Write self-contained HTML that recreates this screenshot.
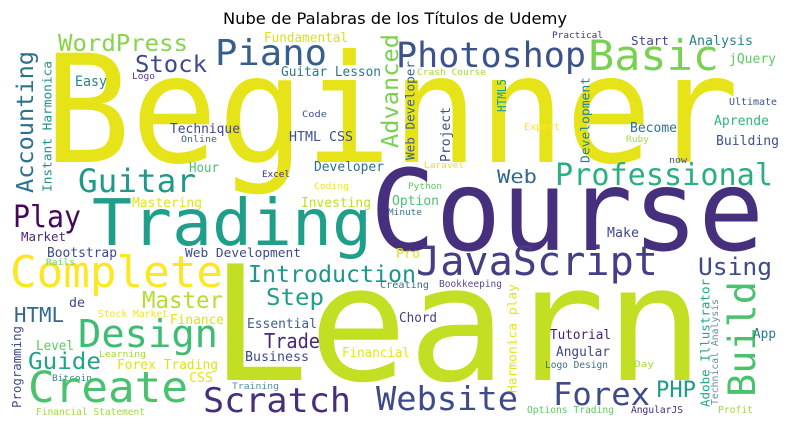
<!DOCTYPE html>
<html>
<head>
<meta charset="utf-8">
<style>
html,body{margin:0;padding:0;background:#fff;}
svg{display:block;}
</style>
</head>
<body>
<svg id="cloud" width="790" height="427" viewBox="0 0 790 427" xmlns="http://www.w3.org/2000/svg">
<text x="395" y="24" text-anchor="middle" font-family="DejaVu Sans, Liberation Sans, sans-serif" font-size="16.3" fill="#000">Nube de Palabras de los Títulos de Udemy</text>
<g id="words"></g>
</svg>
<script>
// words, left x, baseline y, font size, visible width/length, color, vertical flag
const words = ["Beginner","Course","Learn","Trading","Complete","WordPress","Piano","Fundamental","Stock","Accounting","Instant Harmonica","Easy","Logo","Guitar Lesson","Code","Technique","Online","HTML CSS","Hour","Developer","Excel","Coding","Guitar","Advanced","Play","Mastering","Investing","Photoshop","Practical","Basic","Start","Analysis","jQuery","Crash Course","HTML5","Web Developer","Project","Development","Ultimate","Expert","Aprende","Become","Ruby","Building","Laravel","now","Web","Professional","Python","Option","Minute","Market","Bootstrap","Web Development","Rails","Introduction","Step","Master","de","HTML","Stock Market","Finance","Essential","Design","Trade","Programming","Level","Learning","Guide","Forex Trading","Business","CSS","Bitcoin","Create","Training","Scratch","Financial Statement","JavaScript","Make","Pro","Using","Creating","Bookkeeping","Harmonica play","Build","Adobe Illustrator","Technical Analysis","Chord","Tutorial","App","Financial","Angular","Logo Design","Day","Forex","PHP","Website","Options Trading","AngularJS","Profit"];
const posX = [44,370,210,92,10,58,215,264,135,15,42,75,132,281,302,170,181,289,189,314,262,314,78,380,13,132,301,396,552,588,631,689,729,417,497,405,440,580,729,524,714,630,626,716,424,669,497,555,408,392,388,21,47,185,46,248,266,142,69,14,98,170,247,78,264,12,36,99,28,117,245,189,52,28,232,203,36,416,607,396,698,380,439,507,727,700,711,399,550,753,342,556,545,634,553,656,376,527,631,718];
const posY = [162,250,380,245,287,51,65,42,72,193,192,86,79,76,117,133,142,141,172,171,177,189,192,148,227,207,207,67,38,70,45,45,63,75,112,160,162,163,105,130,125,132,142,145,168,163,183,185,189,205,215,241,257,257,265,282,305,308,307,322,317,324,328,347,348,408,350,357,369,369,361,382,381,402,389,412,415,275,237,258,275,288,287,393,397,407,405,322,339,338,357,356,368,367,405,397,410,413,413,413];
const sizes = [150,112,160,64,44,23.5,36,13.5,23,23.5,12.7,14,9,13,9,13,9,13,13,13,9,9,32,23.5,30,13,13,34.5,9,42,12,13,13,9,12,12.5,13,12.5,9.5,9.5,13,13,9,13,9,9,19,30,9,13,9,12,13,12.5,9,23,23,23,13,20,9.5,13,13,38,20,12,13,9,23,13,13,13,9,43,9,34,9.5,40,13,13,24,9.5,9.5,12.8,37,12.5,9.5,13,13,13,13,13,9.5,9,31,22,33,9.5,9.5,9.5];
const lengths = [695,394,494,280,213,130,112,84,72,142,131,32,23,100,25,70,36,64,30,70,28,35,118,114,68,70,70,190,51,131,38,64,47,69,33,99,55,86,48,36,55,47,23,63,40,18,40,218,34,47,34,45,70,116,29,168,58,81,16,50,70,54,70,140,56,82,38,47,73,101,64,24,40,160,47,148,109,242,32,24,74,49,63,109,116,128,106,38,61,23,68,54,63,20,97,40,142,87,52,35];
const colors = ["#e6e419","#46307e","#c2df23","#1f9e89","#fde725","#86d549","#355f8d","#d8e219","#3e4a89","#2c728e","#21918c","#25858e","#5b3a8d","#2a788e","#3b528b","#414487","#3e5f8e","#3b528b","#4ac16d","#2d708e","#472d7b","#f1e51d","#1f9a8a","#7ad151","#46085c","#e2e418","#bddf26","#3b528b","#46337e","#7ad151","#3e4989","#26828e","#5ec962","#a0da39","#1f9e89","#3e5f8e","#3b528b","#277f8e","#3b5688","#fde725","#35b779","#2c728e","#a5db36","#3b528b","#eae51a","#3b528b","#31688e","#2ab07f","#5ec962","#4ac16d","#3b6f8e","#482878","#3e4a89","#3e4a89","#7ad151","#1f968b","#1f9e89","#b5de2b","#3e4a89","#31688e","#f1e51d","#dde318","#3e5f8e","#3fbc73","#482878","#3e4a89","#5ec962","#9fda3a","#20a386","#dde318","#3e4a89","#e5e419","#3e7f9e","#4ac16d","#4e8fa6","#472d7b","#9fda3a","#433e85","#3e4a89","#e5e419","#3e4a89","#3e6f8e","#5a4a8e","#e2e418","#4ac16d","#22a884","#6a8aa3","#433e85","#481f70","#2a788e","#e8e419","#414487","#3e6f8e","#a5db36","#3e4a89","#1f9a8a","#3e4a89","#5ec962","#482878","#9fda3a"];
const vertical = [0,0,0,0,0,0,0,0,0,1,1,0,0,0,0,0,0,0,0,0,0,0,0,1,0,0,0,0,0,0,0,0,0,0,1,1,1,1,0,0,0,0,0,0,0,0,0,0,0,0,0,0,0,0,0,0,0,0,0,0,0,0,0,0,0,1,0,0,0,0,0,0,0,0,0,0,0,0,0,0,0,0,0,1,1,1,1,0,0,0,0,0,0,0,0,0,0,0,0,0];

const NS = "http://www.w3.org/2000/svg";
const g = document.getElementById("words");
for (let i = 0; i < words.length; i++) {
  const t = document.createElementNS(NS, "text");
  t.textContent = words[i];
  t.setAttribute("font-family", "DejaVu Sans Mono, Liberation Mono, monospace");
  t.setAttribute("font-size", sizes[i]);
  t.setAttribute("fill", colors[i]);
  t.setAttribute("textLength", lengths[i]);
  t.setAttribute("lengthAdjust", "spacingAndGlyphs");
  if (vertical[i]) {
    const bx = posX[i] + sizes[i] * 0.76;
    t.setAttribute("x", 0);
    t.setAttribute("y", 0);
    t.setAttribute("transform", "translate(" + bx + "," + posY[i] + ") rotate(-90)");
  } else {
    t.setAttribute("x", posX[i]);
    t.setAttribute("y", posY[i]);
  }
  
  
  g.appendChild(t);
}
</script>
</body>
</html>
